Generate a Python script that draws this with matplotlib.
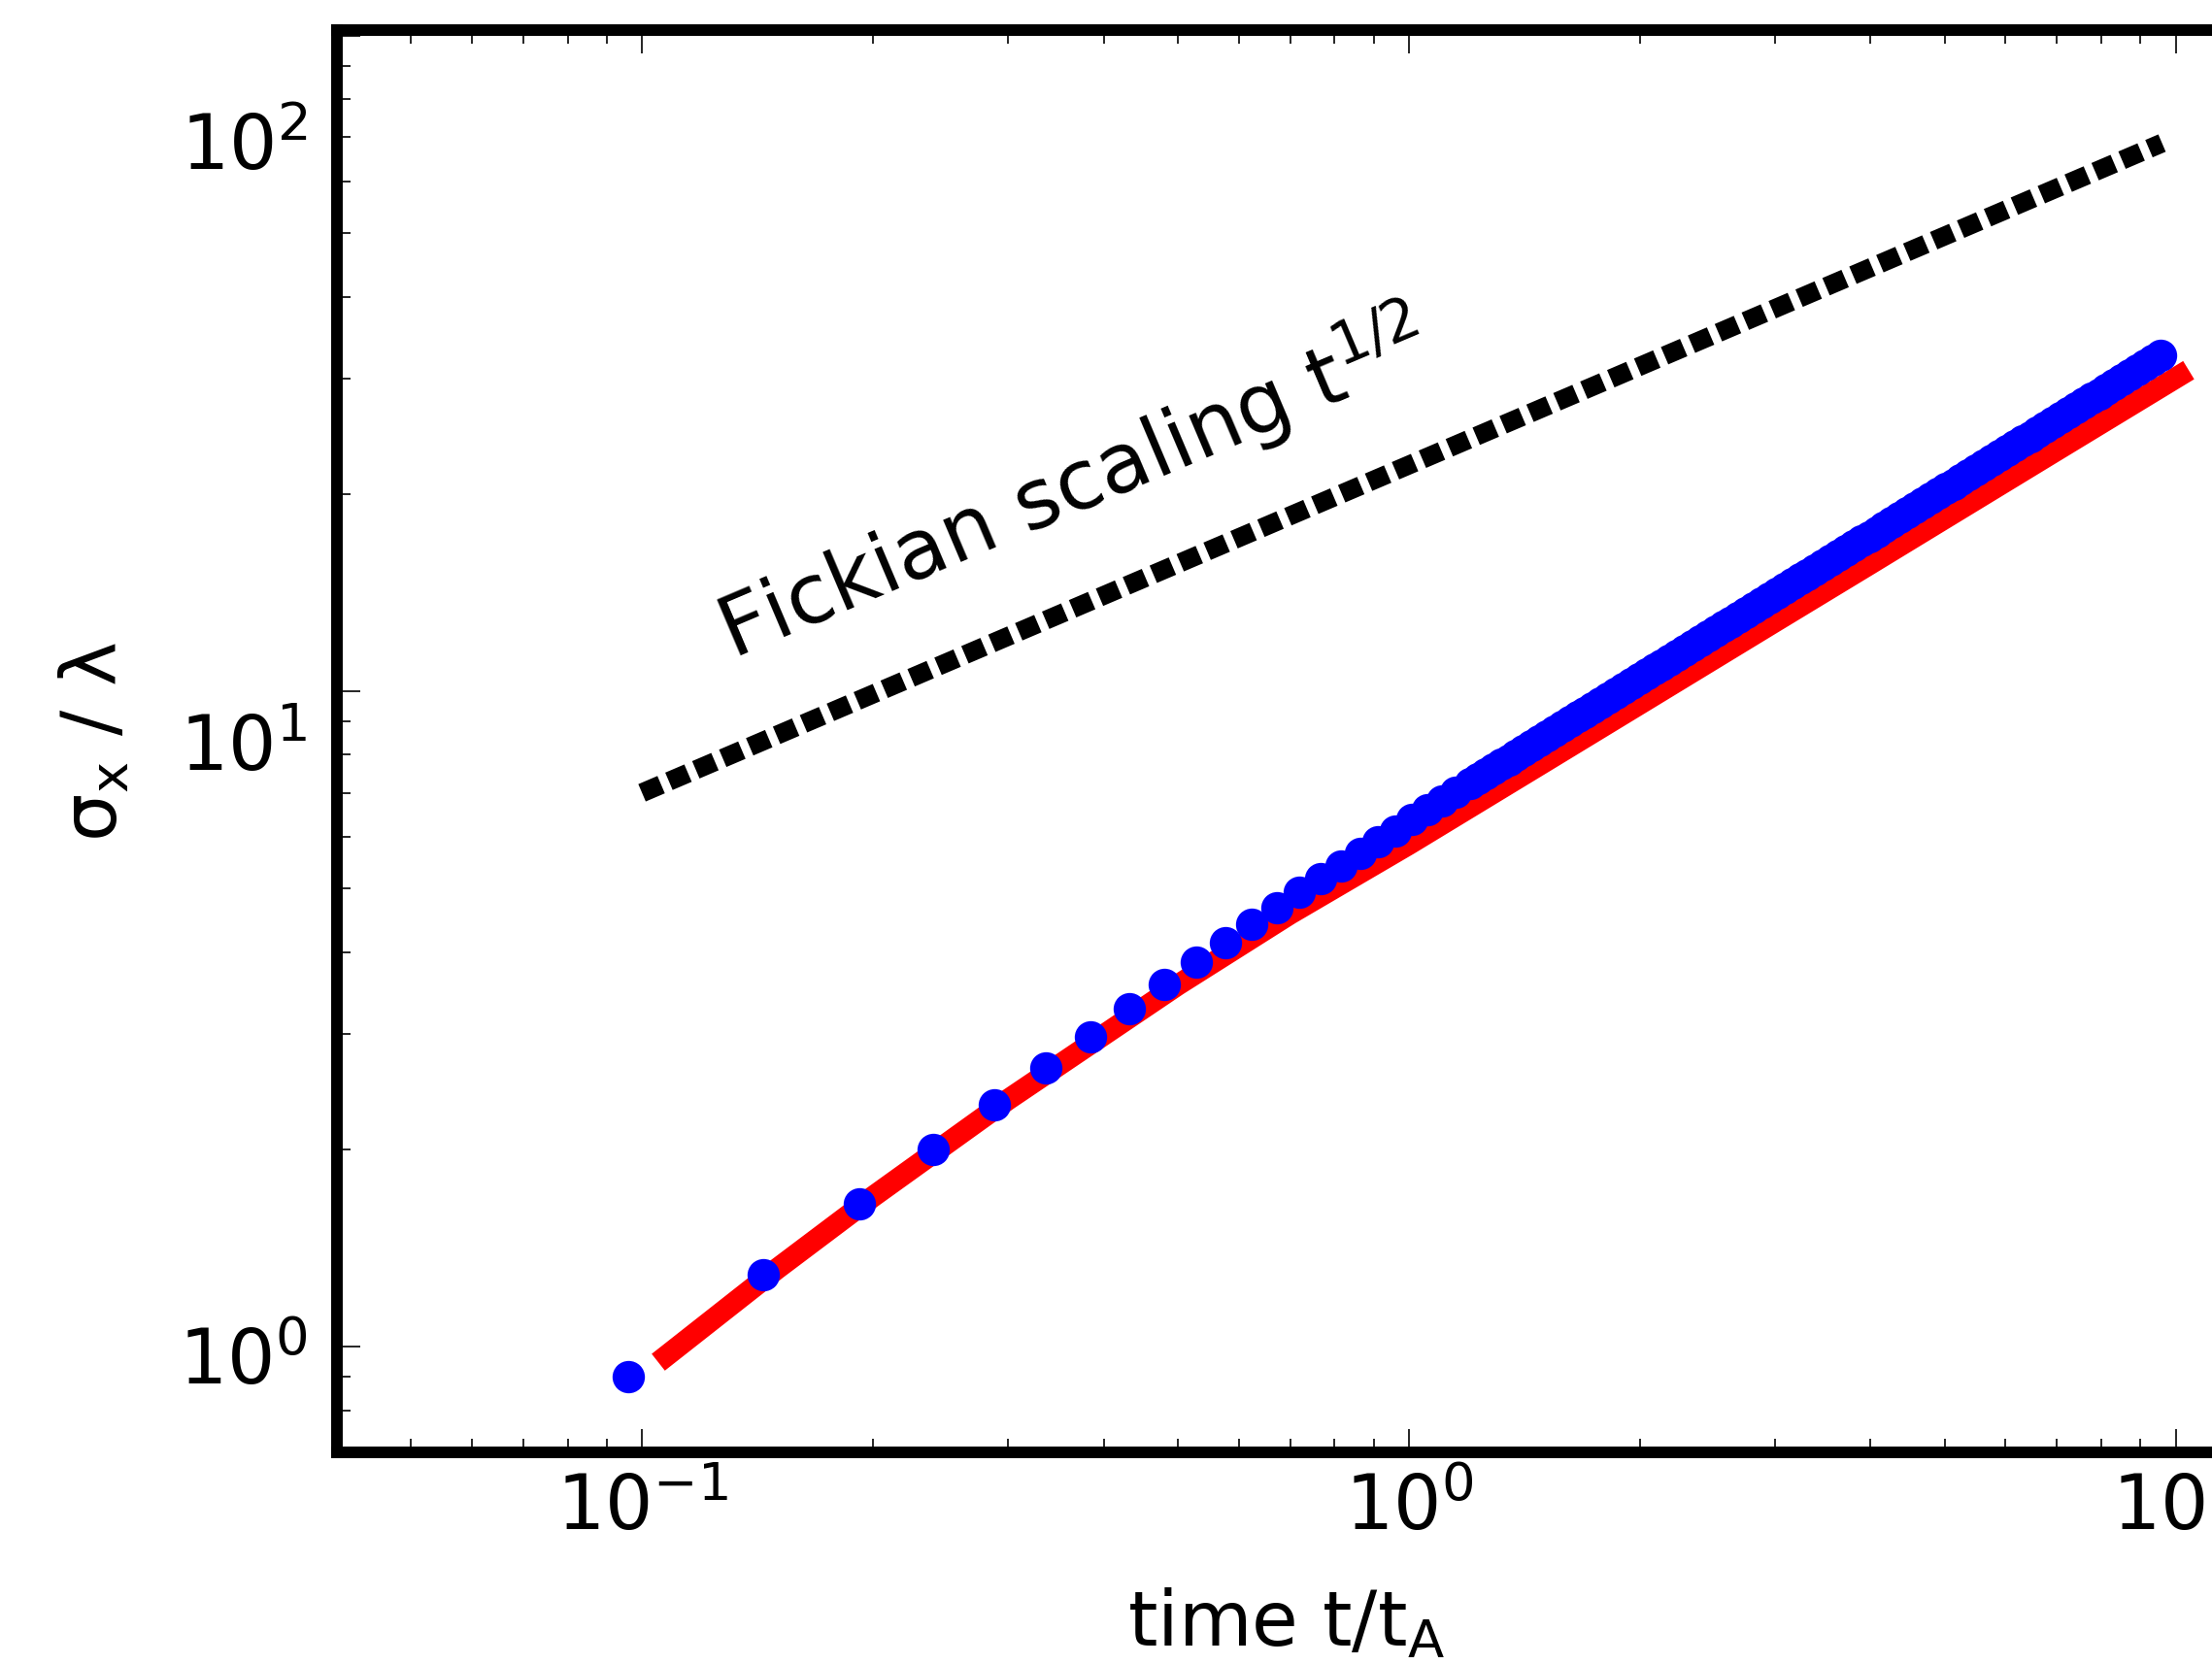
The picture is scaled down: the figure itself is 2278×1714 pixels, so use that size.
import matplotlib
matplotlib.use('Agg')
import matplotlib.pyplot as plt
from matplotlib.ticker import FixedLocator
from matplotlib.transforms import ScaledTranslation

plt.rcParams['font.family'] = 'DejaVu Sans'
plt.rcParams['mathtext.default'] = 'regular'
plt.rcParams['axes.unicode_minus'] = False

# simulation: spreading of the plume (blue dots)
t_sim = [0.096, 0.144, 0.192, 0.240, 0.288, 0.336, 0.384, 0.432, 0.480, 0.528,
         0.576, 0.624, 0.672, 0.720, 0.768, 0.816, 0.864, 0.912, 0.960, 1.008,
         1.056, 1.104, 1.152,
         1.202, 1.230, 1.259, 1.288, 1.318, 1.349, 1.380, 1.413, 1.445, 1.479,
         1.514, 1.549, 1.585, 1.622, 1.660, 1.698, 1.738, 1.778, 1.820, 1.862,
         1.906, 1.950, 1.995, 2.042, 2.089, 2.138, 2.188, 2.239, 2.291, 2.344,
         2.399, 2.455, 2.512, 2.570, 2.630, 2.692, 2.754, 2.818, 2.884, 2.951,
         3.020, 3.090, 3.162, 3.236, 3.311, 3.388, 3.467, 3.548, 3.631, 3.715,
         3.802, 3.891, 3.981, 4.074, 4.169, 4.266, 4.365, 4.467, 4.571, 4.677,
         4.786, 4.898, 5.012, 5.129, 5.248, 5.370, 5.495, 5.623, 5.754, 5.888,
         6.026, 6.166, 6.310, 6.457, 6.607, 6.761, 6.918, 7.080, 7.244, 7.413,
         7.586, 7.763, 7.943, 8.128, 8.318, 8.511, 8.710, 8.913, 9.120, 9.333,
         9.550]
sigma_sim = [0.90, 1.29, 1.65, 2.00, 2.34, 2.66, 2.97, 3.28, 3.57, 3.86,
             4.14, 4.41, 4.67, 4.93, 5.18, 5.42, 5.66, 5.90, 6.13, 6.37,
             6.59, 6.80, 7.01,
             7.235, 7.357, 7.482, 7.608, 7.734, 7.864, 7.997, 8.132, 8.268, 8.408,
             8.549, 8.693, 8.839, 8.988, 9.140, 9.294, 9.449, 9.609, 9.770, 9.935,
             10.10, 10.27, 10.45, 10.62, 10.80, 10.98, 11.17, 11.35, 11.55, 11.74,
             11.94, 12.14, 12.34, 12.55, 12.76, 12.98, 13.19, 13.42, 13.64, 13.87,
             14.11, 14.34, 14.59, 14.83, 15.08, 15.33, 15.59, 15.85, 16.12, 16.39,
             16.67, 16.95, 17.23, 17.52, 17.82, 18.12, 18.42, 18.74, 19.05, 19.37,
             19.70, 20.03, 20.37, 20.71, 21.06, 21.41, 21.77, 22.14, 22.51, 22.89,
             23.28, 23.67, 24.07, 24.47, 24.88, 25.30, 25.73, 26.16, 26.60, 27.05,
             27.50, 27.97, 28.44, 28.92, 29.40, 29.90, 30.40, 30.91, 31.43, 31.96,
             32.50]

# theory (red line)
t_theory = [0.105, 0.15, 0.2, 0.3, 0.5, 0.7, 1.0, 1.5, 2.0, 3.0, 4.0, 5.0, 7.0, 10.4]
sigma_theory = [0.947, 1.315, 1.694, 2.382, 3.566, 4.574, 5.84, 7.79, 9.56,
                12.76, 15.65, 18.35, 23.32, 30.9]

# Fickian reference line
t_fick = [0.1, 9.6]
sigma_fick = [7.0, 68.6]

fig = plt.figure(figsize=(22.78, 17.15), dpi=100)
ax = fig.add_axes([0.1523, 0.1271, 0.8587, 0.8542])

ax.plot(t_theory, sigma_theory, '-', color='#ff0000', lw=15.8,
        solid_capstyle='butt', zorder=2)
ax.plot(t_sim, sigma_sim, 'o', color='#0000ff', ms=24, mew=0, zorder=3)
ax.plot(t_fick, sigma_fick, color='black', lw=14, dashes=(1.1, 0.45), zorder=2)

ax.set_xscale('log')
ax.set_yscale('log')
ax.set_xlim(0.04, 12)
ax.set_ylim(0.69, 102)
ax.yaxis.set_major_locator(FixedLocator([1, 10, 100]))

ax.tick_params(which='both', direction='in', top=True, right=True,
               width=1.2, labelsize=56)
ax.tick_params(which='major', length=17)
ax.tick_params(which='minor', length=10)
ax.tick_params(axis='x', pad=14)
ax.tick_params(axis='y', pad=22)
for s in ax.spines.values():
    s.set_linewidth(8.6)

ax.set_xlabel('time t/t$_A$', fontsize=56, labelpad=30)
ax.set_ylabel(r'$\sigma_x$ / $\lambda$', fontsize=56, labelpad=34)

ax.text(0.1316, 11.19, 'Fickian scaling t$^{1/2}$', rotation=23,
        rotation_mode='anchor', ha='left', va='baseline', fontsize=62)

# the y tick labels sit a bit below their ticks in the original
fig.canvas.draw()
shift = {1: 8, 10: 51, 100: 107}
for tick in ax.yaxis.get_major_ticks():
    loc = tick.get_loc()
    if loc in shift:
        tick.label1.set_transform(tick.label1.get_transform() +
                                  ScaledTranslation(0, -shift[loc] / 100, fig.dpi_scale_trans))

fig.savefig('out.png', dpi=100)
